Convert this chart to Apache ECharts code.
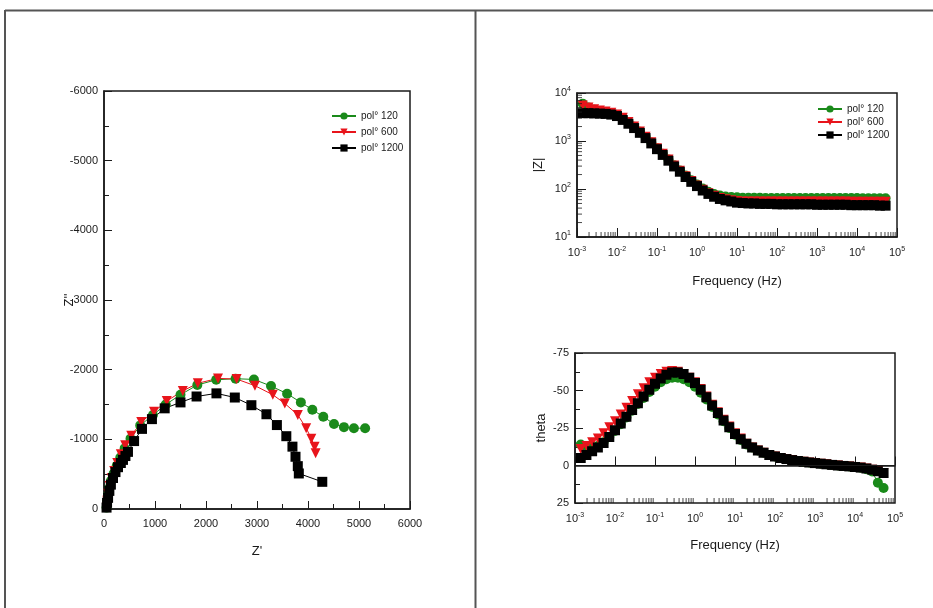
<!DOCTYPE html>
<html>
<head>
<meta charset="utf-8">
<script src="https://cdn.jsdelivr.net/npm/echarts@6/dist/echarts.min.js"></script>
<style>
  html, body { margin: 0; padding: 0; background: #fff; }
  #chart { width: 933px; height: 608px; }
</style>
</head>
<body>
<div id="chart"></div>
<script>
// Nyquist points [Z', Z'']
const nyq120 = [[50,-20],[60,-100],[80,-200],[105,-300],[140,-410],[190,-510],[250,-620],[320,-740],[405,-870],[520,-1010],[710,-1200],[960,-1350],[1210,-1500],[1500,-1640],[1830,-1780],[2200,-1855],[2580,-1870],[2940,-1860],[3275,-1765],[3590,-1655],[3860,-1530],[4085,-1425],[4300,-1325],[4510,-1220],[4705,-1175],[4900,-1160],[5120,-1160]];
const nyq600 = [[55,-30],[65,-120],[85,-220],[110,-330],[150,-440],[200,-545],[260,-660],[330,-785],[415,-915],[535,-1050],[730,-1250],[980,-1395],[1230,-1550],[1545,-1695],[1840,-1805],[2235,-1875],[2600,-1865],[2960,-1770],[3310,-1640],[3545,-1515],[3800,-1350],[3965,-1160],[4065,-1010],[4130,-895],[4150,-800]];
const nyq1200 = [[50,-20],[60,-90],[80,-160],[105,-260],[135,-350],[176,-445],[225,-530],[274,-600],[330,-660],[372,-705],[420,-760],[470,-820],[590,-975],[745,-1150],[940,-1290],[1190,-1445],[1500,-1530],[1815,-1615],[2205,-1660],[2565,-1600],[2890,-1490],[3185,-1360],[3390,-1205],[3575,-1045],[3695,-895],[3755,-750],[3800,-615],[3820,-510],[4280,-390]];

// Bode: frequency (Hz)
const freq = [0.00139,0.00193,0.00268,0.00373,0.00518,0.0072,0.01,0.0139,0.0193,0.0268,0.0373,0.0518,0.072,0.1,0.139,0.193,0.268,0.373,0.518,0.72,1,1.39,1.93,2.68,3.73,5.18,7.2,10,13.9,19.3,26.8,37.3,51.8,72,100,139,193,268,373,518,720,1000,1390,1930,2680,3730,5180,7200,10000,13900,19300,26800,37300,51800];

// |Z|
const zmod120 = [6000,5000,4500,4200,4000,3800,3500,3000,2450,1980,1560,1210,935,710,540,410,312,243,190,152,124,102,88,79,73,70,68,67,66,66,66,66,65,65,65,65,65,65,65,65,65,65,65,65,65,65,65,65,65,64,64,64,64,64];
const zmod600 = [5500,5000,4600,4300,4100,3900,3550,3050,2500,2000,1580,1220,940,710,540,410,310,240,185,146,118,96,82,72,65,61,58,56,55,55,55,55,55,55,55,55,55,55,55,55,55,55,55,55,55,55,55,54,54,54,54,54,54,54];
const zmod1200 = [3800,3800,3760,3720,3670,3550,3310,2750,2290,1860,1480,1150,891,676,513,389,295,229,178,141,115,93,79,69,62,58,55,52,51,50,50,49,49,49,48,48,48,48,48,48,48,47,47,47,47,47,47,46,46,46,46,46,45,45];

// theta (deg)
const theta120 = [-14,-11,-11.5,-13,-15.5,-19,-23,-27.5,-32,-36.5,-41,-45,-49,-52.5,-55.5,-57.5,-58.5,-58.5,-57.5,-55.5,-52.5,-48.5,-44,-39,-34,-29.5,-25,-20.5,-17,-14,-12,-10,-8.5,-7,-6,-5,-4.3,-3.6,-3,-2.5,-2,-1.6,-1.2,-0.8,-0.4,0,0.3,0.6,1,1.5,2.5,4,11.5,15];
const theta600 = [-11,-13,-15.5,-18,-21.5,-25.5,-29.5,-34,-38.5,-43,-47.5,-51.5,-55.5,-58.5,-61,-62.5,-63,-62.5,-61,-58.5,-55.5,-51,-46,-40.5,-35.5,-30.5,-26,-21.5,-18,-14.5,-12,-10,-8.5,-7,-6,-5,-4.3,-3.6,-3,-2.5,-2,-1.6,-1.2,-0.8,-0.4,0,0.3,0.6,1,1.4,2,2.8,3.8,5];
const theta1200 = [-5,-7,-9.5,-12,-15,-19,-23.5,-28,-32.5,-37,-41.5,-46,-50.5,-54.5,-58,-60.5,-62,-62,-61,-58.5,-55,-50.5,-45.5,-40,-35,-30,-25.5,-21,-17.5,-14.5,-12,-10,-8.5,-7,-6,-5,-4.3,-3.6,-3,-2.5,-2,-1.6,-1.2,-0.8,-0.4,0,0.3,0.6,1,1.4,2,2.8,3.8,5];

const names = ["pol° 120", "pol° 600", "pol° 1200"];
const colors = ["#1a8a1a", "#e8141b", "#000000"];
const symbols = ["circle", "triangle", "rect"];
const rotates = [0, 180, 0];

// minor tick positions of the log axes
const freqMinor = [];
for (let e = -3; e <= 4; e++) for (let m = 2; m <= 9; m++) freqMinor.push(m * Math.pow(10, e));
const zMinor = [];
for (let e = 1; e <= 3; e++) for (let m = 2; m <= 9; m++) zMinor.push(m * Math.pow(10, e));

const font = "Liberation Sans, Arial, sans-serif";
const ink = "#1a1a1a";

const chart = echarts.init(document.getElementById("chart"));

const pow10 = (v) => "10{s|" + Math.round(Math.log10(v)) + "}";
const powRich = { s: { fontSize: 7, padding: [0, 0, 7, 0], fontFamily: font, color: ink } };

const valueAxisBase = {
  nameMoveOverlap: false,
  axisLine: { lineStyle: { color: ink, width: 1.5 } },
  axisTick: { inside: true, length: 8, lineStyle: { color: ink } },
  minorTick: { show: true, splitNumber: 2, length: 5, lineStyle: { color: ink } },
  splitLine: { show: false },
  axisLabel: { fontFamily: font, fontSize: 11, color: ink, formatter: (v) => String(v) },
  nameTextStyle: { fontFamily: font, fontSize: 13, color: ink },
};

const logAxisBase = {
  type: "log",
  logBase: 10,
  nameMoveOverlap: false,
  axisLine: { lineStyle: { color: ink, width: 1.5 } },
  axisTick: { inside: true, length: 9, lineStyle: { color: ink } },
  splitLine: { show: false },
  axisLabel: { fontFamily: font, fontSize: 11, color: ink, formatter: pow10, rich: powRich },
  nameTextStyle: { fontFamily: font, fontSize: 13, color: ink },
};

const gridBox = { show: true, borderColor: ink, borderWidth: 1.5, backgroundColor: "transparent" };

const series = [];
const nyq = [nyq120, nyq600, nyq1200];
const zmod = [zmod120, zmod600, zmod1200];
const theta = [theta120, theta600, theta1200];

for (let i = 0; i < 3; i++) {
  series.push({
    name: names[i],
    type: "line",
    xAxisIndex: 0,
    yAxisIndex: 0,
    data: nyq[i],
    symbol: symbols[i],
    symbolRotate: rotates[i],
    symbolSize: 10,
    showAllSymbol: true,
    itemStyle: { color: colors[i] },
    lineStyle: { color: colors[i], width: 1 },
  });
}
for (let i = 0; i < 3; i++) {
  series.push({
    name: names[i],
    type: "line",
    xAxisIndex: 1,
    yAxisIndex: 1,
    data: freq.map((f, k) => [f, zmod[i][k]]),
    symbol: symbols[i],
    symbolRotate: rotates[i],
    symbolSize: 10,
    showAllSymbol: true,
    itemStyle: { color: colors[i] },
    lineStyle: { color: colors[i], width: 1 },
  });
}
for (let i = 0; i < 3; i++) {
  const s = {
    name: names[i],
    type: "line",
    xAxisIndex: 2,
    yAxisIndex: 2,
    data: freq.map((f, k) => [f, theta[i][k]]),
    symbol: symbols[i],
    symbolRotate: rotates[i],
    symbolSize: 10,
    showAllSymbol: true,
    itemStyle: { color: colors[i] },
    lineStyle: { color: colors[i], width: 1 },
  };
  if (i === 0) {
    s.markLine = {
      silent: true,
      symbol: "none",
      label: { show: false },
      lineStyle: { color: ink, width: 1, type: "solid" },
      data: [{ yAxis: 0 }],
    };
  }
  series.push(s);
}

// minor ticks on log axes
const tickMark = (xi, yi, data, size, offset) => ({
  type: "scatter",
  xAxisIndex: xi,
  yAxisIndex: yi,
  data: data,
  symbol: "rect",
  symbolSize: size,
  symbolOffset: offset,
  itemStyle: { color: ink },
  silent: true,
  clip: false,
  z: 5,
});
series.push(tickMark(1, 1, freqMinor.map((f) => [f, 10]), [1, 5], [0, -2.5]));
series.push(tickMark(2, 2, freqMinor.map((f) => [f, 25]), [1, 5], [0, -2.5]));
series.push(tickMark(1, 1, zMinor.map((v) => [0.001, v]), [5, 1], [2.5, 0]));

const legendBase = {
  data: names,
  orient: "vertical",
  itemWidth: 24,
  itemHeight: 9,
  selectedMode: false,
  textStyle: { fontFamily: font, fontSize: 10, color: ink },
};

const option = {
  animation: false,
  backgroundColor: "#fff",
  grid: [
    Object.assign({ left: 104, top: 91, width: 306, height: 418 }, gridBox),
    Object.assign({ left: 577, top: 93, width: 320, height: 144 }, gridBox),
    Object.assign({ left: 575, top: 353, width: 320, height: 150 }, gridBox),
  ],
  legend: [
    Object.assign({ left: 326, top: 106, itemGap: 6 }, legendBase),
    Object.assign({ left: 812, top: 99, itemGap: 3 }, legendBase),
  ],
  xAxis: [
    Object.assign({}, valueAxisBase, {
      gridIndex: 0, type: "value", min: 0, max: 6000, interval: 1000,
      name: "Z'", nameLocation: "middle", nameGap: 36,
      axisLabel: Object.assign({}, valueAxisBase.axisLabel, { margin: 9 }),
    }),
    Object.assign({}, logAxisBase, {
      gridIndex: 1, min: 0.001, max: 100000, splitNumber: 8,
      name: "Frequency (Hz)", nameLocation: "middle", nameGap: 38,
      axisLabel: Object.assign({}, logAxisBase.axisLabel, { margin: 9 }),
    }),
    Object.assign({}, logAxisBase, {
      gridIndex: 2, min: 0.001, max: 100000, splitNumber: 8,
      name: "Frequency (Hz)", nameLocation: "middle", nameGap: 36,
      axisLabel: Object.assign({}, logAxisBase.axisLabel, { margin: 9 }),
    }),
  ],
  yAxis: [
    Object.assign({}, valueAxisBase, {
      gridIndex: 0, type: "value", min: -6000, max: 0, interval: 1000, inverse: true,
      name: "Z''", nameLocation: "middle", nameGap: 28,
      axisLabel: Object.assign({}, valueAxisBase.axisLabel, { margin: 6 }),
    }),
    Object.assign({}, logAxisBase, {
      gridIndex: 1, min: 10, max: 10000, splitNumber: 3,
      name: "|Z|", nameLocation: "middle", nameGap: 32,
      axisLabel: Object.assign({}, logAxisBase.axisLabel, { margin: 6 }),
    }),
    Object.assign({}, valueAxisBase, {
      gridIndex: 2, type: "value", min: -75, max: 25, interval: 25, inverse: true,
      name: "theta", nameLocation: "middle", nameGap: 27,
      axisLabel: Object.assign({}, valueAxisBase.axisLabel, { margin: 6 }),
    }),
  ],
  graphic: [
    { type: "line", silent: true, shape: { x1: 5, y1: 10.5, x2: 933, y2: 10.5 }, style: { stroke: "#555", lineWidth: 2 } },
    { type: "line", silent: true, shape: { x1: 5, y1: 10, x2: 5, y2: 608 }, style: { stroke: "#555", lineWidth: 2 } },
    { type: "line", silent: true, shape: { x1: 475.5, y1: 10, x2: 475.5, y2: 608 }, style: { stroke: "#555", lineWidth: 2 } },
  ],
  series: series,
};

chart.setOption(option);
</script>
</body>
</html>
